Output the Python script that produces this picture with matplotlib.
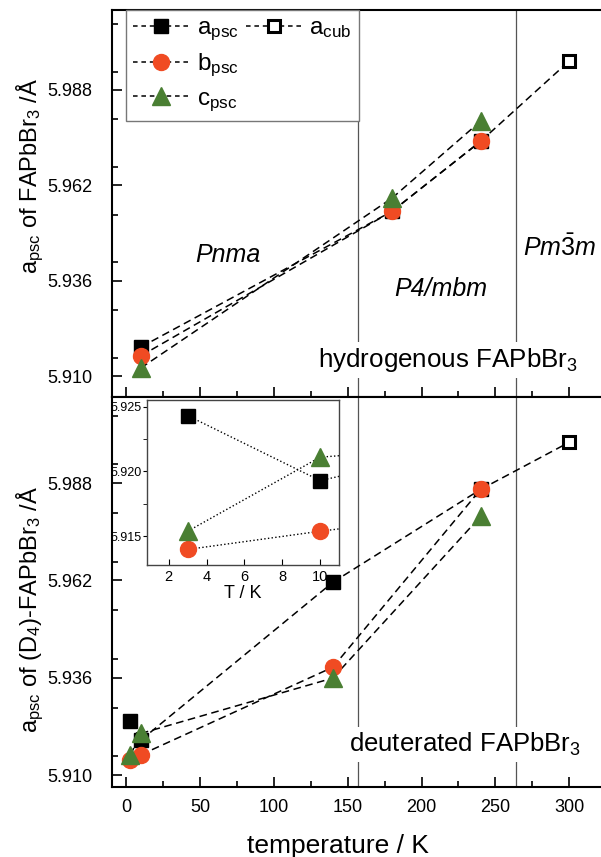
import matplotlib.pyplot as plt
from matplotlib.ticker import MultipleLocator
from matplotlib.lines import Line2D

plt.rcParams['font.family'] = ['Liberation Sans', 'DejaVu Sans']
plt.rcParams['mathtext.fontset'] = 'custom'
plt.rcParams['mathtext.rm'] = 'Liberation Sans'
plt.rcParams['mathtext.it'] = 'Liberation Sans:italic'
plt.rcParams['mathtext.default'] = 'regular'

# hydrogenous FAPbBr3 (top panel)
T_h = [10, 180, 240]
a_h = [5.9179, 5.9549, 5.9740]
b_h = [5.9155, 5.9549, 5.9740]
c_h = [5.9122, 5.9585, 5.9795]
T_cub = [300]
acub_h = [5.9959]

# deuterated FAPbBr3 (bottom panel)
T_d = [3, 10, 140, 240]
a_d = [5.9243, 5.9193, 5.9615, 5.9863]
b_d = [5.9140, 5.9154, 5.9388, 5.9863]
c_d = [5.9154, 5.9211, 5.9359, 5.9791]
acub_d = [5.9989]

# phase transition temperatures
T_trans = [157, 264]

yticks = [5.910, 5.936, 5.962, 5.988]

RED = '#F04B23'
GREEN = '#4A7F33'

fig = plt.figure(figsize=(6.01, 8.57), dpi=100)
ax1 = fig.add_axes([0.1864, 0.5368, 0.8136, 0.4515])
ax2 = fig.add_axes([0.1864, 0.0817, 0.8136, 0.4551])


def dashed(ax, x, y, **kw):
    # one segment at a time so the dash pattern restarts at every point
    for i in range(len(x) - 1):
        ax.plot(x[i:i + 2], y[i:i + 2], color='k', zorder=2, **kw)


def draw_series(ax, T, a, b, c, acub):
    # a_psc line continues to the cubic point
    dashed(ax, T + T_cub, a + acub, ls='--', dashes=(5, 3), lw=1.1)
    dashed(ax, T, b, ls='--', dashes=(5, 3), lw=1.1)
    dashed(ax, T, c, ls='--', dashes=(5, 3), lw=1.1)
    ax.plot(T, a, ls='none', marker='s', ms=10, color='k', zorder=3)
    ax.plot(T, b, ls='none', marker='o', ms=11.5, color=RED, mec=RED, zorder=4)
    ax.plot(T, c, ls='none', marker='^', ms=12.5, color=GREEN, mec=GREEN, zorder=5)
    ax.plot(T_cub, acub, ls='none', marker='s', ms=9, mfc='white', mec='k', mew=2.2, zorder=3)


for ax in (ax1, ax2):
    ax.set_xlim(-9.5, 321.5)
    ax.set_yticks(yticks)
    ax.yaxis.set_minor_locator(MultipleLocator(0.013))
    ax.xaxis.set_major_locator(MultipleLocator(50))
    ax.xaxis.set_minor_locator(MultipleLocator(25))
    ax.tick_params(which='both', direction='in', top=False, right=False, labelsize=13)
    ax.tick_params(which='major', length=7, width=1.2)
    ax.tick_params(which='minor', length=4, width=1.2)
    ax.tick_params(axis='y', pad=14)
    ax.tick_params(axis='x', pad=8.5)
    ax.spines['right'].set_visible(False)
    for s in ('left', 'top', 'bottom'):
        ax.spines[s].set_linewidth(1.5)
    for t in T_trans:
        ax.axvline(t, color='#555555', lw=0.9, zorder=1)

ax1.set_ylim(5.9043, 6.0098)
ax2.set_ylim(5.9068, 6.011)
ax1.set_yticklabels(['%.3f' % v for v in yticks])
ax2.set_yticklabels(['%.3f' % v for v in yticks])
ax1.tick_params(labelbottom=False)

draw_series(ax1, T_h, a_h, b_h, c_h, acub_h)
draw_series(ax2, T_d, a_d, b_d, c_d, acub_d)

ax1.set_ylabel(r'a$_{psc}$ of FAPbBr$_3$ /Å', fontsize=17)
ax1.yaxis.set_label_coords(-0.135, 0.571)
ax2.set_ylabel(r'a$_{psc}$ of (D$_4$)-FAPbBr$_3$ /Å', fontsize=17)
ax2.yaxis.set_label_coords(-0.135, 0.454)
ax2.set_xlabel('temperature / K', fontsize=19)
ax2.xaxis.set_label_coords(0.461, -0.12)

# phase labels
ax1.text(69, 5.9430, 'Pnma', style='italic', fontsize=18, ha='center', va='center')
ax1.text(213, 5.9337, 'P4/mbm', style='italic', fontsize=18, ha='center', va='center')
ax1.text(269, 5.9449, r'$\mathit{Pm}\bar{3}\mathit{m}$', fontsize=18, ha='left', va='center')

box = dict(fc='white', ec='none', pad=3)
ax1.text(0.953, 0.0775, r'hydrogenous FAPbBr$_3$', transform=ax1.transAxes, fontsize=18.7,
         ha='right', va='baseline', bbox=box, zorder=6)
ax2.text(0.959, 0.0897, r'deuterated FAPbBr$_3$', transform=ax2.transAxes, fontsize=18.5,
         ha='right', va='baseline', bbox=box, zorder=6)

# legend
h_a = Line2D([], [], color='k', ls='--', dashes=(3, 2.5), lw=1.1, marker='s', ms=10)
h_b = Line2D([], [], color='k', ls='--', dashes=(3, 2.5), lw=1.1, marker='o', ms=11.5,
             mfc=RED, mec=RED)
h_c = Line2D([], [], color='k', ls='--', dashes=(3, 2.5), lw=1.1, marker='^', ms=12.5,
             mfc=GREEN, mec=GREEN)
h_cub = Line2D([], [], color='k', ls='--', dashes=(3, 2.5), lw=1.1, marker='s', ms=9,
               mfc='white', mec='k', mew=2.2)
blank = Line2D([], [], ls='none')
leg = ax1.legend([h_a, h_b, h_c, h_cub, blank, blank],
                 [r'a$_{psc}$', r'b$_{psc}$', r'c$_{psc}$', r'a$_{cub}$', '', ''],
                 ncol=2, loc='upper left', bbox_to_anchor=(0.029, 1.0), borderaxespad=0,
                 fontsize=17.5, frameon=True, fancybox=False, framealpha=1,
                 edgecolor='#777777', handlelength=2.3, handletextpad=0.3,
                 columnspacing=0.3, labelspacing=0.35, borderpad=0.3)
leg.get_frame().set_linewidth(1.0)
leg.set_zorder(7)

# inset with the low temperature points
axin = fig.add_axes([0.2446, 0.3407, 0.3195, 0.1925])
axin.plot(T_d, a_d, color='k', ls=':', lw=1.0, zorder=2)
axin.plot(T_d, b_d, color='k', ls=':', lw=1.0, zorder=2)
axin.plot(T_d, c_d, color='k', ls=':', lw=1.0, zorder=2)
axin.plot(T_d, a_d, ls='none', marker='s', ms=10, color='k', zorder=3)
axin.plot(T_d, b_d, ls='none', marker='o', ms=11.5, color=RED, mec=RED, zorder=4)
axin.plot(T_d, c_d, ls='none', marker='^', ms=12.5, color=GREEN, mec=GREEN, zorder=5)
axin.set_xlim(0.85, 11.0)
axin.set_ylim(5.9128, 5.9255)
axin.set_xticks([2, 4, 6, 8, 10])
axin.set_yticks([5.915, 5.920, 5.925])
axin.set_yticklabels(['5.915', '5.920', '5.925'])
axin.yaxis.set_minor_locator(MultipleLocator(0.0025))
axin.tick_params(axis='x', direction='in', labelsize=10.5, length=4)
axin.tick_params(axis='y', which='both', direction='out', labelsize=9, length=3, pad=1)
axin.set_xlabel('T / K', fontsize=13, labelpad=1)
for s in axin.spines.values():
    s.set_linewidth(1.0)
    s.set_color('#444444')

fig.savefig('out.png', dpi=100)
